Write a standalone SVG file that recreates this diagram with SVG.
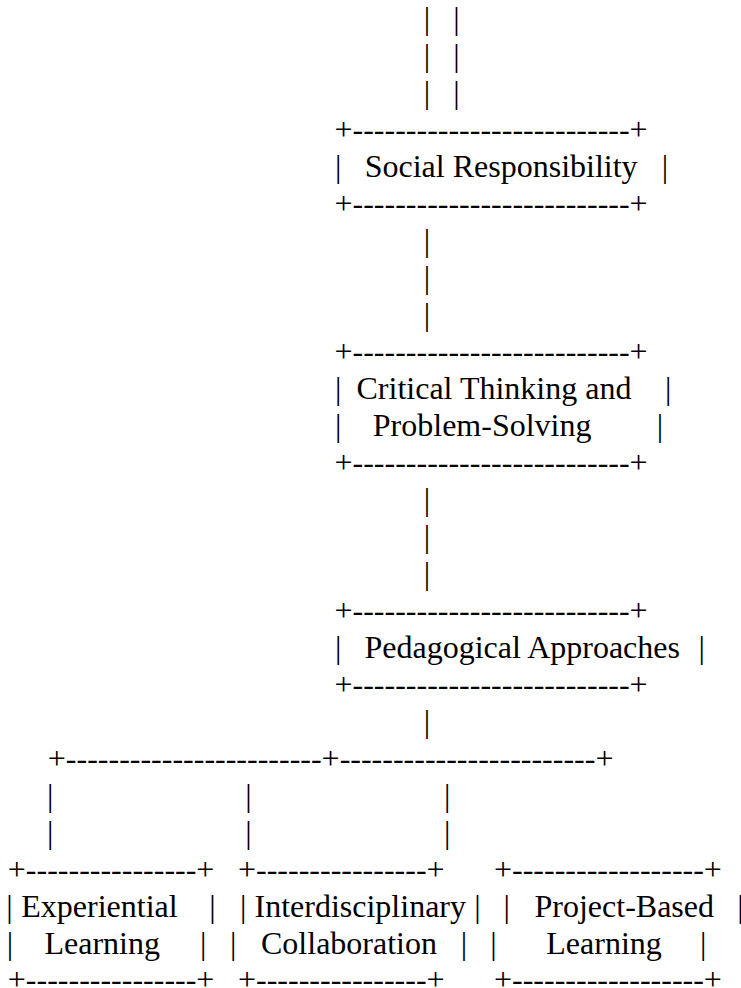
<svg xmlns="http://www.w3.org/2000/svg" width="741" height="988" viewBox="0 0 741 988">
<style>
text{font-family:"Liberation Serif","Times New Roman",serif;font-size:32px;fill:#000;white-space:pre}
.m{text-anchor:middle}
</style>
<rect width="741" height="988" fill="#fff"/>
<g id="connectors">
<text class="m" x="427" y="29">|</text><text class="m" x="456.5" y="29">|</text>
<text class="m" x="427" y="66">|</text><text class="m" x="456.5" y="66">|</text>
<text class="m" x="427" y="103">|</text><text class="m" x="456.5" y="103">|</text>
<text class="m" x="427" y="250.9">|</text>
<text class="m" x="427" y="287.9">|</text>
<text class="m" x="427" y="324.9">|</text>
<text class="m" x="427" y="509.8">|</text>
<text class="m" x="427" y="546.8">|</text>
<text class="m" x="427" y="583.8">|</text>
<text class="m" x="427" y="731.7">|</text>
<text x="47.8" y="768.6">+------------------------+------------------------+</text>
<text class="m" x="50.3" y="805.6">|</text><text class="m" x="248.5" y="805.6">|</text><text class="m" x="447.3" y="805.6">|</text>
<text class="m" x="50.3" y="842.6">|</text><text class="m" x="248.5" y="842.6">|</text><text class="m" x="447.3" y="842.6">|</text>
</g>
<g id="node-social">
<text x="334.5" y="139.9">+--------------------------+</text>
<text class="m" x="338.3" y="176.9">|</text>
<text x="364.7" y="176.9">Social Responsibility</text>
<text class="m" x="665" y="176.9">|</text>
<text x="334.5" y="213.9">+--------------------------+</text>
</g>
<g id="node-critical">
<text x="334.5" y="361.9">+--------------------------+</text>
<text class="m" x="338.3" y="398.8">|</text>
<text x="356.5" y="398.8">Critical Thinking and</text>
<text class="m" x="668.3" y="398.8">|</text>
<text class="m" x="338.3" y="435.8">|</text>
<text x="372.8" y="435.8">Problem-Solving</text>
<text class="m" x="660" y="435.8">|</text>
<text x="334.5" y="472.8">+--------------------------+</text>
</g>
<g id="node-pedagogical">
<text x="334.5" y="620.7">+--------------------------+</text>
<text class="m" x="338.3" y="657.7">|</text>
<text x="364.5" y="657.7">Pedagogical Approaches</text>
<text class="m" x="701.7" y="657.7">|</text>
<text x="334.5" y="694.7">+--------------------------+</text>
</g>
<g id="node-experiential">
<text x="7.8" y="879.5">+----------------+</text>
<text class="m" x="9.5" y="916.5">|</text>
<text x="21.3" y="916.5">Experiential</text>
<text class="m" x="212.5" y="916.5">|</text>
<text class="m" x="10" y="953.5">|</text>
<text x="44.5" y="953.5">Learning</text>
<text class="m" x="203.3" y="953.5">|</text>
<text x="7.8" y="990">+----------------+</text>
</g>
<g id="node-interdisciplinary">
<text x="238" y="879.5">+----------------+</text>
<text class="m" x="243.3" y="916.5">|</text>
<text x="254.5" y="916.5">Interdisciplinary</text>
<text class="m" x="477.5" y="916.5">|</text>
<text class="m" x="233.3" y="953.5">|</text>
<text x="261" y="953.5">Collaboration</text>
<text class="m" x="464" y="953.5">|</text>
<text x="238" y="990">+----------------+</text>
</g>
<g id="node-project">
<text x="494" y="879.5">+------------------+</text>
<text class="m" x="506.7" y="916.5">|</text>
<text x="534.5" y="916.5">Project-Based</text>
<text class="m" x="740.5" y="916.5">|</text>
<text class="m" x="493.5" y="953.5">|</text>
<text x="546.3" y="953.5">Learning</text>
<text class="m" x="703.3" y="953.5">|</text>
<text x="494" y="990">+------------------+</text>
</g>
</svg>
